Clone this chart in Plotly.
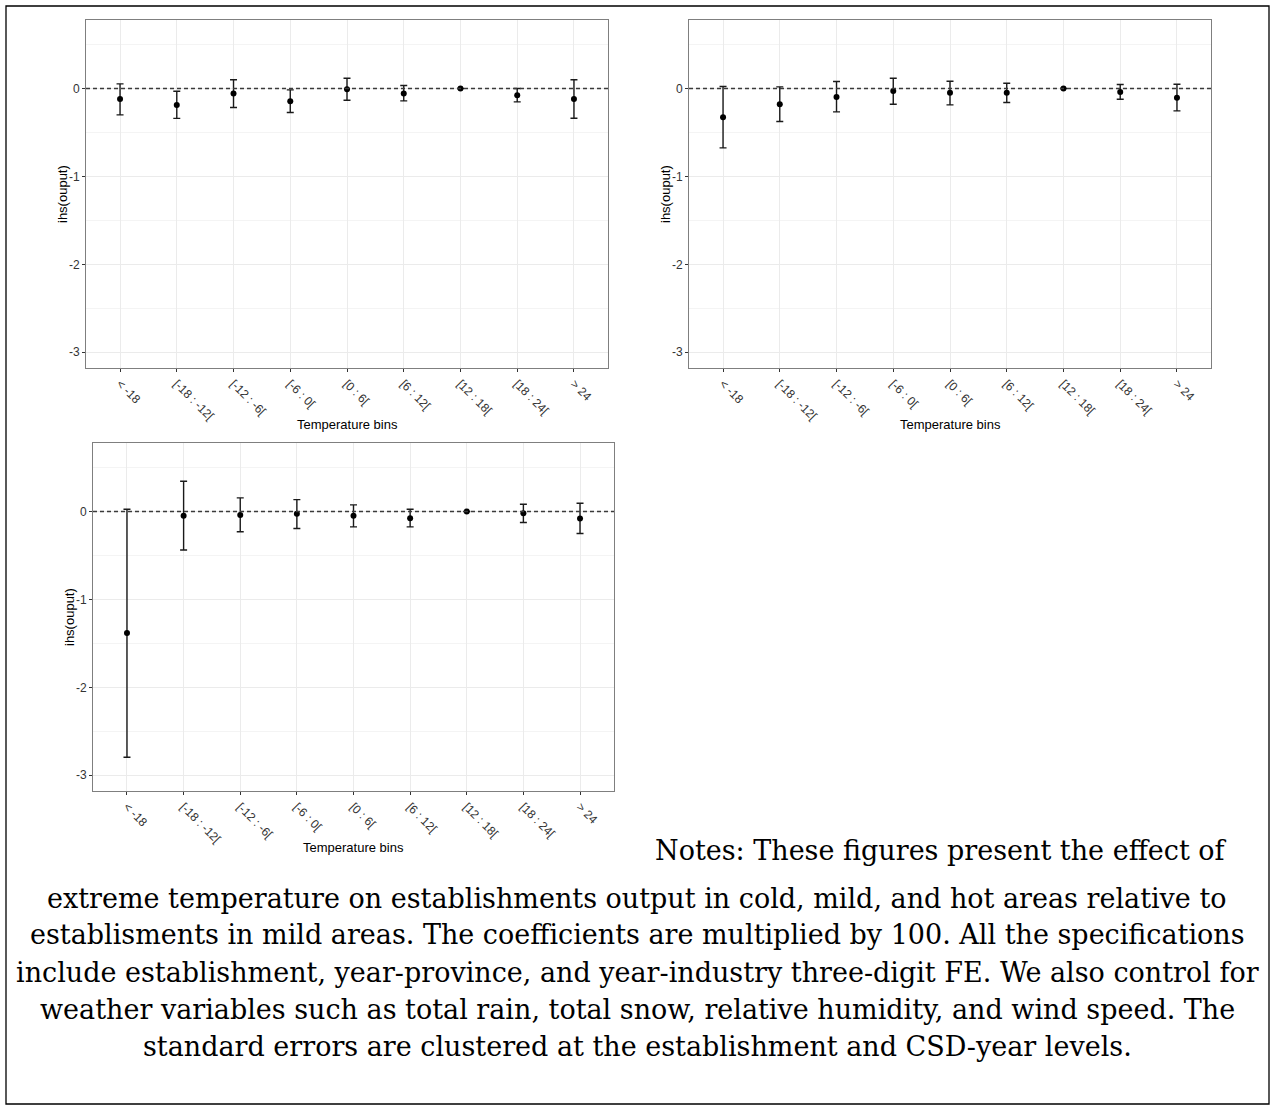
import plotly.graph_objects as go

W, H = 1274, 1110

bins = ["< -18", "[-18 : -12[", "[-12 : -6[", "[-6 : 0[", "[0 : 6[",
        "[6 : 12[", "[12 : 18[", "[18 : 24[", "> 24"]

# Panel 1
est1 = [-0.12, -0.186, -0.057, -0.144, -0.008, -0.057, 0.0, -0.076, -0.118]
lo1 = [-0.30, -0.34, -0.216, -0.273, -0.133, -0.14, 0.0, -0.152, -0.338]
hi1 = [0.053, -0.03, 0.10, -0.015, 0.118, 0.034, 0.0, 0.0, 0.10]

# Panel 2
est2 = [-0.326, -0.178, -0.095, -0.027, -0.049, -0.049, 0.0, -0.038, -0.106]
lo2 = [-0.675, -0.375, -0.265, -0.178, -0.186, -0.159, 0.0, -0.121, -0.254]
hi2 = [0.023, 0.019, 0.08, 0.118, 0.083, 0.061, 0.0, 0.046, 0.049]

# Panel 3
est3 = [-1.383, -0.049, -0.038, -0.026, -0.049, -0.076, 0.0, -0.019, -0.079]
lo3 = [-2.796, -0.438, -0.23, -0.193, -0.174, -0.174, 0.0, -0.125, -0.249]
hi3 = [0.026, 0.344, 0.155, 0.136, 0.076, 0.026, 0.0, 0.083, 0.094]

y_ticks = [0, -1, -2, -3]
y_range = [-3.18, 0.78]

x_title = "Temperature bins"
y_title = "ihs(ouput)"

notes_lines = [
    "Notes: These figures present the effect of",
    "extreme temperature on establishments output in cold, mild, and hot areas relative to",
    "establisments in mild areas. The coefficients are multiplied by 100. All the specifications",
    "include establishment, year-province, and year-industry three-digit FE. We also control for",
    "weather variables such as total rain, total snow, relative humidity, and wind speed. The",
    "standard errors are clustered at the establishment and CSD-year levels.",
]

def px_x(p):
    return p / W

def px_y(p):
    return 1 - p / H

panels = [
    dict(est=est1, lo=lo1, hi=hi1, x0=86, x1=608, y0=20, y1=368),
    dict(est=est2, lo=lo2, hi=hi2, x0=689, x1=1211, y0=20, y1=368),
    dict(est=est3, lo=lo3, hi=hi3, x0=93, x1=614, y0=443, y1=791),
]

fig = go.Figure()
shapes = []
annotations = []
sans = "Liberation Sans, Arial, sans-serif"

for i, p in enumerate(panels, start=1):
    xa = "x" if i == 1 else f"x{i}"
    ya = "y" if i == 1 else f"y{i}"
    plus = [h - e for h, e in zip(p["hi"], p["est"])]
    minus = [e - l for e, l in zip(p["est"], p["lo"])]
    fig.add_trace(go.Scatter(
        x=bins, y=p["est"], mode="markers", xaxis=xa, yaxis=ya,
        marker=dict(color="black", size=6),
        error_y=dict(type="data", symmetric=False, array=plus, arrayminus=minus,
                     color="#1a1a1a", thickness=1.4, width=3.5),
        showlegend=False,
    ))
    common_axis = dict(showline=True, linecolor="#7f7f7f", linewidth=1, mirror=True,
                       ticks="outside", ticklen=3, tickcolor="#333333",
                       gridcolor="#ebebeb", gridwidth=1, zeroline=False,
                       tickfont=dict(family=sans, size=12, color="#333333"))
    xkey = "xaxis" if i == 1 else f"xaxis{i}"
    ykey = "yaxis" if i == 1 else f"yaxis{i}"
    fig.update_layout(**{
        xkey: dict(domain=[px_x(p["x0"]), px_x(p["x1"])], anchor=ya,
                   type="category", categoryorder="array", categoryarray=bins,
                   range=[-0.6, len(bins) - 0.4], tickangle=45, **common_axis),
        ykey: dict(domain=[px_y(p["y1"]), px_y(p["y0"])], anchor=xa,
                   range=y_range, tickvals=y_ticks, ticktext=[str(v) for v in y_ticks],
                   minor=dict(tickvals=[0.5, -0.5, -1.5, -2.5], showgrid=True,
                              gridcolor="#f4f4f4", gridwidth=1, ticks=""),
                   **common_axis),
    })
    shapes.append(dict(type="line", xref=f"{xa} domain", yref=ya, x0=0, x1=1, y0=0, y1=0,
                       line=dict(color="#3a3a3a", width=1.5, dash="4px,3px"), layer="above"))
    cx = (p["x0"] + p["x1"]) / 2
    annotations.append(dict(text=x_title, x=px_x(cx), y=px_y(p["y1"] + 56), xref="paper", yref="paper",
                            showarrow=False, xanchor="center", yanchor="middle",
                            font=dict(family=sans, size=13, color="black")))
    annotations.append(dict(text=y_title, x=px_x(p["x0"] - 24), y=px_y((p["y0"] + p["y1"]) / 2),
                            xref="paper", yref="paper", showarrow=False, textangle=-90,
                            xanchor="center", yanchor="middle",
                            font=dict(family=sans, size=13, color="black")))

serif = "DejaVu Serif, serif"
note_size = 27
note_y = [850, 898, 935, 972, 1009, 1046, 1083]
annotations.append(dict(text=notes_lines[0], x=px_x(941), y=px_y(850), xref="paper", yref="paper",
                        showarrow=False, xanchor="center", yanchor="middle",
                        font=dict(family=serif, size=note_size, color="black")))
for k, line in enumerate(notes_lines[1:]):
    annotations.append(dict(text=line, x=px_x(637), y=px_y(note_y[k + 1]), xref="paper", yref="paper",
                            showarrow=False, xanchor="center", yanchor="middle",
                            font=dict(family=serif, size=note_size, color="black")))

shapes.append(dict(type="rect", xref="paper", yref="paper", x0=px_x(6), x1=px_x(1269),
                   y0=px_y(1104), y1=px_y(6), line=dict(color="black", width=1.3)))

fig.update_layout(width=W, height=H, margin=dict(l=0, r=0, t=0, b=0),
                  paper_bgcolor="white", plot_bgcolor="white",
                  shapes=shapes, annotations=annotations, showlegend=False)

fig.write_html("out.html")
